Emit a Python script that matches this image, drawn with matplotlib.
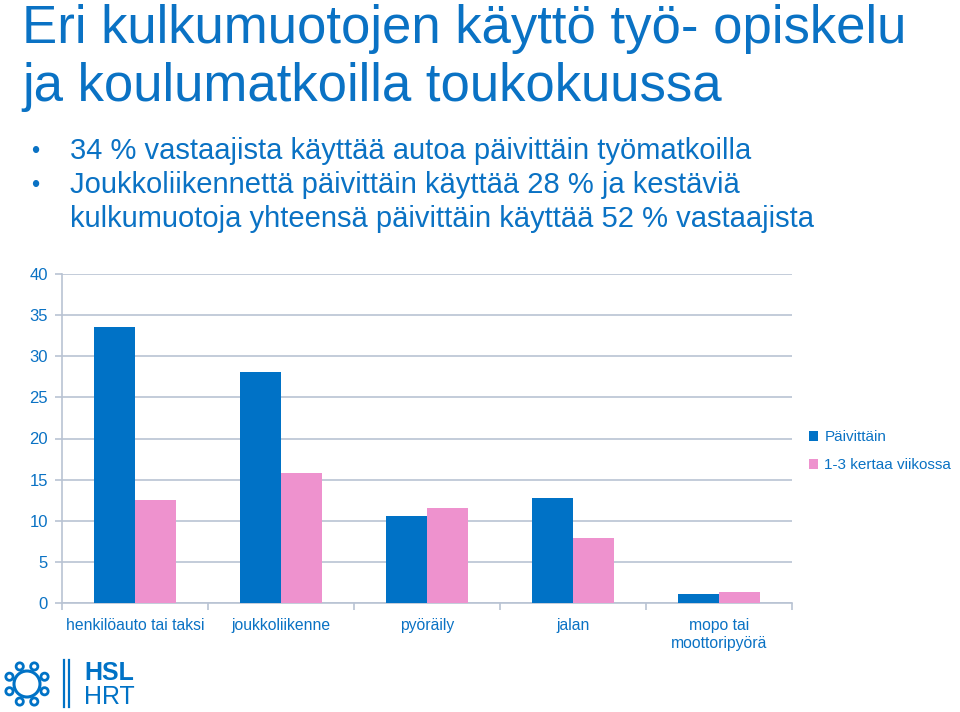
import matplotlib
matplotlib.use("Agg")
import matplotlib.pyplot as plt
import numpy as np
from matplotlib.patches import Circle

categories = ["henkilöauto tai taksi", "joukkoliikenne", "pyöräily", "jalan", "mopo tai\nmoottoripyörä"]
daily = [33.6, 28.1, 10.6, 12.8, 1.1]
weekly = [12.5, 15.8, 11.6, 7.9, 1.3]
series_names = ["Päivittäin", "1-3 kertaa viikossa"]
yticks = [0, 5, 10, 15, 20, 25, 30, 35, 40]

title_lines = ["Eri kulkumuotojen käyttö työ- opiskelu", "ja koulumatkoilla toukokuussa"]
bullets = ["34 % vastaajista käyttää autoa päivittäin työmatkoilla",
           "Joukkoliikennettä päivittäin käyttää 28 % ja kestäviä",
           "kulkumuotoja yhteensä päivittäin käyttää 52 % vastaajista"]

BLUE = "#0072C6"
PINK = "#EE92CE"
TXT = "#0A72C4"
GRID = "#B9C3D3"

plt.rcParams['font.family'] = ['Liberation Sans', 'DejaVu Sans']

W, H = 960, 712
fig = plt.figure(figsize=(9.6, 7.12), dpi=100)

def fx(px):
    return px / W
def fy(py):
    return 1 - py / H

# Title
fig.text(fx(22), fy(43), title_lines[0], fontsize=38, color=TXT, va='baseline', ha='left')
fig.text(fx(22), fy(101), title_lines[1], fontsize=38, color=TXT, va='baseline', ha='left')

# Bullets
fig.text(fx(31), fy(152), "•", fontsize=17, color=TXT, va='center')
fig.text(fx(70), fy(159), bullets[0], fontsize=21, color=TXT, va='baseline')
fig.text(fx(31), fy(186), "•", fontsize=17, color=TXT, va='center')
fig.text(fx(70), fy(193), bullets[1], fontsize=21, color=TXT, va='baseline')
fig.text(fx(70), fy(227), bullets[2], fontsize=21, color=TXT, va='baseline')

# Axes
ax = fig.add_axes([fx(62), fy(603), fx(792) - fx(62), fy(274) - fy(603)])
x = np.arange(len(categories))
bw = 0.28
ax.bar(x - bw / 2, daily, width=bw, color=BLUE, label=series_names[0], zorder=3)
ax.bar(x + bw / 2, weekly, width=bw, color=PINK, label=series_names[1], zorder=3)
ax.set_xlim(-0.5, len(categories) - 0.5)
ax.set_ylim(0, 40)
ax.set_yticks(yticks)
ax.set_yticklabels([str(v) for v in yticks])
ax.yaxis.grid(True, color=GRID, linewidth=1.2, zorder=0)
ax.set_axisbelow(True)
for s in ['top', 'right']:
    ax.spines[s].set_visible(False)
ax.spines['left'].set_color(GRID)
ax.spines['bottom'].set_color(GRID)
ax.spines['left'].set_linewidth(1.2)
ax.spines['bottom'].set_linewidth(1.2)
ax.tick_params(axis='y', colors=GRID, labelcolor=TXT, labelsize=12, length=5, width=1.2, pad=5)
ax.set_xticks(np.arange(-0.5, len(categories), 1.0))
ax.set_xticklabels([])
ax.tick_params(axis='x', which='major', colors=GRID, length=5, width=1.2)
ax.set_xticks(x, minor=True)
ax.set_xticklabels(categories, minor=True)
ax.tick_params(axis='x', which='minor', length=0, labelsize=11.3, labelcolor=TXT, pad=11)
ax.set_facecolor('none')

leg = ax.legend(loc='upper left', bbox_to_anchor=(1.015, 0.543), frameon=False,
                fontsize=11, handlelength=0.6, handleheight=0.6, handletextpad=0.4,
                labelspacing=0.9, borderaxespad=0)
for t in leg.get_texts():
    t.set_color(TXT)

# Logo
la = fig.add_axes([0, 0, 1, 1], zorder=-1)
la.set_xlim(0, W)
la.set_ylim(H, 0)
la.axis('off')
cx, cy = 27, 684
la.add_patch(Circle((cx, cy), 13, fill=False, edgecolor=BLUE, linewidth=2.2))
for k in range(8):
    a = np.pi / 8 + k * np.pi / 4
    la.add_patch(Circle((cx + 19 * np.cos(a), cy + 19 * np.sin(a)), 3.6,
                        fill=False, edgecolor=BLUE, linewidth=2))
la.plot([64, 64], [660, 707], color=BLUE, linewidth=1.6)
la.plot([69, 69], [660, 707], color=BLUE, linewidth=1.6)
la.text(84, 680, "HSL", fontsize=18, fontweight='bold', color=BLUE, va='baseline', ha='left')
la.text(84, 704, "HRT", fontsize=18, color=BLUE, va='baseline', ha='left')

fig.savefig("out.png", dpi=100)
